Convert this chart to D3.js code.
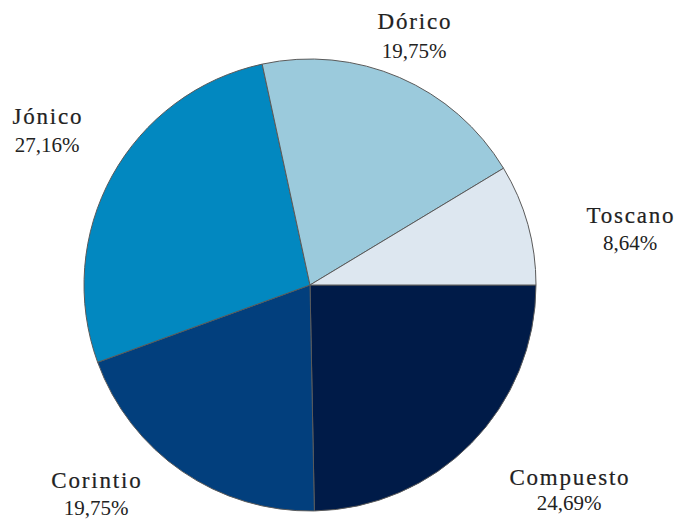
<!DOCTYPE html>
<html><head><meta charset="utf-8">
<script src="https://cdn.jsdelivr.net/npm/d3@7"></script>
<style>body{margin:0;background:#fff} text{font-family:"Times New Roman","Liberation Serif",Tinos,Times,serif}</style></head>
<body><svg id="c" width="681" height="520"></svg>
<script>
const categories = ["Compuesto", "Corintio", "Jónico", "Dórico", "Toscano"];
const values = [24.69, 19.75, 27.16, 19.75, 8.64];
const labels = ["24,69%", "19,75%", "27,16%", "19,75%", "8,64%"];
const colors = ["#001b48", "#023f7d", "#0288c0", "#9bcadc", "#dde7f0"];
const labelPos = [[569, 485, 510], [96, 488, 515], [47, 124, 152], [414, 29, 58], [630, 223, 250]];

const svg = d3.select("#c");
const cx = 310, cy = 285, r = 226;
const g = svg.append("g").attr("transform", `translate(${cx},${cy})`);
const pie = d3.pie().sort(null).startAngle(Math.PI / 2).endAngle(Math.PI / 2 + 2 * Math.PI);
const arcs = pie(values);
const arc = d3.arc().innerRadius(0).outerRadius(r);
g.selectAll("path").data(arcs).enter().append("path")
  .attr("d", arc)
  .attr("fill", (d, i) => colors[i])
  .attr("stroke", "#5a5a5a")
  .attr("stroke-width", 1);

const t = svg.selectAll("g.lab").data(categories).enter().append("g").attr("class", "lab");
t.append("text")
  .attr("x", (d, i) => labelPos[i][0] + 0.9).attr("y", (d, i) => labelPos[i][1])
  .attr("text-anchor", "middle")
  .style("font-size", "23px").style("letter-spacing", "1.8px")
  .attr("fill", "#222").attr("stroke", "#222").attr("stroke-width", 0.2)
  .text(d => d);
t.append("text")
  .attr("x", (d, i) => labelPos[i][0]).attr("y", (d, i) => labelPos[i][2])
  .attr("text-anchor", "middle")
  .style("font-size", "21px")
  .attr("fill", "#222")
  .text((d, i) => labels[i]);
</script></body></html>
